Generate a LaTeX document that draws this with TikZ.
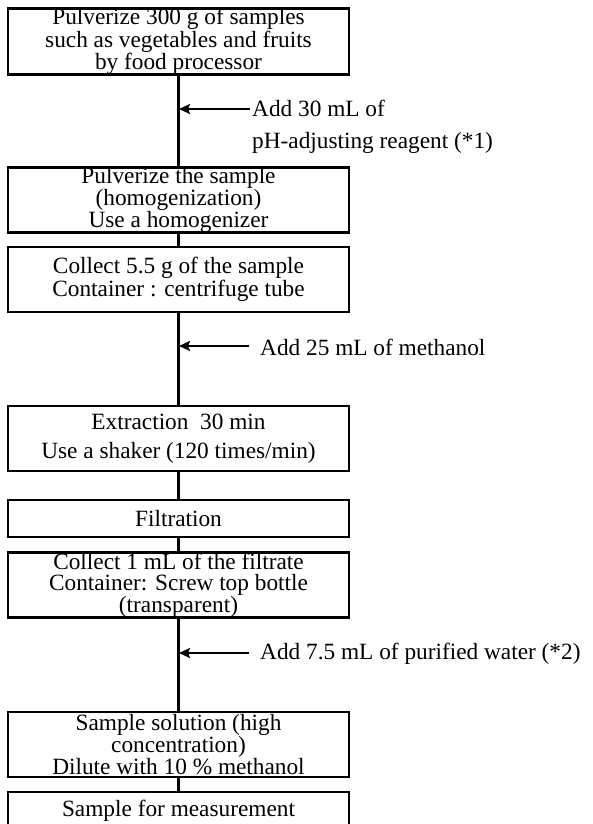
\documentclass[tikz,border=0pt]{standalone}
\usepackage{fontspec}
\setmainfont{Liberation Serif}
\usetikzlibrary{arrows.meta}
\begin{document}
\begin{tikzpicture}[x=1pt,y=-1pt,
  stepbox/.style={draw,line width=2.7pt,minimum width=341pt,inner sep=0pt,align=center},
  tight/.style={font=\fontsize{23.3}{21}\selectfont},
  loose/.style={font=\fontsize{23.3}{23}\selectfont},
  link/.style={line width=2.3pt},
  addarrow/.style={line width=2.3pt,-{Stealth[length=11pt,width=10pt,inset=2pt]}},
  note/.style={anchor=west,align=left,inner sep=0pt}]
\useasboundingbox (0,0) rectangle (592,824);
\begin{scope}
\clip (0,0) rectangle (592,824);
\node[stepbox,tight,minimum height=65pt] (b1) at (178.5,41.5) {Pulverize 300 g of samples\\such as vegetables and fruits\\by food processor};
\node[stepbox,tight,minimum height=64pt] (b2) at (178.5,200) {Pulverize the sample\\(homogenization)\\Use a homogenizer};
\node[stepbox,loose,minimum height=65pt] (b3) at (178.5,279.5) {Collect 5.5 g of the sample\\Container : centrifuge tube};
\node[stepbox,font=\fontsize{23.3}{29}\selectfont,minimum height=65pt] (b4) at (178.5,438.5) {Extraction\ \ 30 min\\Use a shaker (120 times/min)};
\node[stepbox,tight,minimum height=37pt] (b5) at (178.5,518.5) {Filtration};
\node[stepbox,tight,minimum height=64pt] (b6) at (178.5,585) {Collect 1 mL of the filtrate\\Container: Screw top bottle\\(transparent)};
\node[stepbox,tight,minimum height=65pt] (b7) at (178.5,744.5) {Sample solution (high\\concentration)\\Dilute with 10 \% methanol};
\node[stepbox,tight,minimum height=37pt] (b8) at (178.5,810.5) {Sample for measurement};
\draw[link] (b1) -- (b2);
\draw[link] (b2) -- (b3);
\draw[link] (b3) -- (b4);
\draw[link] (b4) -- (b5);
\draw[link] (b5) -- (b6);
\draw[link] (b6) -- (b7);
\draw[link] (b7) -- (b8);
\coordinate (t1) at (250,109);
\coordinate (h1) at (179,109);
\coordinate (t2) at (249,346);
\coordinate (h2) at (179,346);
\coordinate (t3) at (249,653);
\coordinate (h3) at (179,653);
\draw[addarrow] (t1) -- (h1);
\draw[addarrow] (t2) -- (h2);
\draw[addarrow] (t3) -- (h3);
\node[note,font=\fontsize{23.3}{32}\selectfont] (n1) at (252,127) {Add 30 mL of\\pH-adjusting reagent (*1)};
\node[note,font=\fontsize{23.3}{25}\selectfont] (n2) at (260,347) {Add 25 mL of methanol};
\node[note,font=\fontsize{23.3}{25}\selectfont] (n3) at (260,654) {Add 7.5 mL of purified water (*2)};
\end{scope}
\end{tikzpicture}
\end{document}
